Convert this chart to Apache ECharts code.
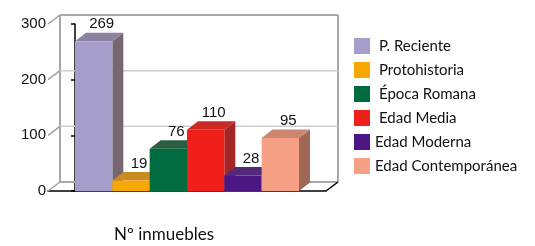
<!DOCTYPE html>
<html>
<head>
<meta charset="utf-8">
<script src="https://cdn.jsdelivr.net/npm/echarts@6/dist/echarts.min.js"></script>
<style>
  html, body { margin: 0; padding: 0; background: #fff; }
  #main { width: 535px; height: 246px; }
</style>
</head>
<body>
<div id="main"></div>
<script>
// periodos y número de inmuebles
var categories = ['P. Reciente', 'Protohistoria', 'Época Romana', 'Edad Media', 'Edad Moderna', 'Edad Contemporánea'];
var values = [269, 19, 76, 110, 28, 95];
var yTicks = [0, 100, 200, 300];
var axisTitle = 'Nº inmuebles';

// colores: frente, cara superior, lateral
var frontColors = ['#a59ecb', '#f8a800', '#006b3e', '#ee2019', '#4c1785', '#f6a185'];
var topColors = ['#8b81a0', '#c98a22', '#2a5e40', '#c92a25', '#53297a', '#cc8670'];
var sideColors = ['#77666f', '#a26f1c', '#0d4a2c', '#a32727', '#3a1860', '#a06757'];

(function () {
    var dom = document.getElementById('main');
    var myChart = echarts.init(dom);
    var xMin = -0.7232, xMax = 6.7232;
    var dx = 11, dy = 8.5;     // profundidad de las barras
    var wx = 12, wy = 9;       // profundidad de las paredes

    function line(x1, y1, x2, y2, color, w) {
        return { type: 'line', shape: { x1: x1, y1: y1, x2: x2, y2: y2 },
                 style: { stroke: color, lineWidth: w }, silent: true };
    }

    function renderWall(params, api) {
        var v = api.value(1);
        var a = api.coord([xMin, v]);
        var b = api.coord([xMax, v]);
        var last = yTicks[yTicks.length - 1];
        var kids = [];
        var isEdge = (v === 0 || v === last);
        kids.push(line(a[0] + wx, a[1] - wy, b[0] + wx, b[1] - wy, isEdge ? '#a8a8a8' : '#cfcfcf', isEdge ? 2 : 1.5));
        kids.push(line(a[0], a[1], a[0] + wx, a[1] - wy, '#a0a0a0', 1.5));
        if (v === 0) {
            var t = api.coord([xMin, last]);
            var r = api.coord([xMax, last]);
            kids.push(line(a[0] + wx, a[1] - wy, t[0] + wx, t[1] - wy, '#a8a8a8', 2));
            kids.push(line(b[0] + wx, b[1] - wy, r[0] + wx, r[1] - wy, '#a8a8a8', 2));
            kids.push(line(b[0], b[1], b[0] + wx, b[1] - wy, '#000', 1.5));
        }
        return { type: 'group', children: kids };
    }

    function renderBar(params, api) {
        var i = api.value(0), v = api.value(1);
        var k = params.seriesIndex - 1;
        var p0 = api.coord([i, 0]);
        var p1 = api.coord([i + 1, v]);
        var x0 = p0[0], x1 = p1[0], yb = p0[1], yt = p1[1];
        return {
            type: 'group',
            children: [
                { type: 'polygon', shape: { points: [[x1, yb], [x1 + dx, yb - dy], [x1 + dx, yt - dy], [x1, yt]] },
                  style: { fill: sideColors[k] } },
                { type: 'polygon', shape: { points: [[x0, yt], [x0 + dx, yt - dy], [x1 + dx, yt - dy], [x1, yt]] },
                  style: { fill: topColors[k] } },
                { type: 'rect', shape: { x: x0, y: yt, width: x1 - x0, height: yb - yt },
                  style: { fill: frontColors[k] } },
                { type: 'text', z2: 10,
                  style: { text: String(v), x: (x0 + x1) / 2 + 8, y: yt - dy - 1,
                           align: 'center', verticalAlign: 'bottom',
                           fontSize: 15, fontFamily: 'Liberation Sans', fill: '#111' } }
            ]
        };
    }

    var series = [{
        type: 'custom',
        name: '_wall',
        renderItem: renderWall,
        data: yTicks.map(function (t) { return [xMin, t]; }),
        encode: { x: 0, y: 1 },
        silent: true
    }];
    categories.forEach(function (c, i) {
        series.push({
            type: 'custom',
            name: c,
            renderItem: renderBar,
            itemStyle: { color: frontColors[i] },
            data: [[i, values[i]]],
            encode: { x: 0, y: 1 }
        });
    });

    var legendData = categories.map(function (c, i) {
        return i < 4 ? { name: c, textStyle: { padding: [0, 0, 0, 4] } } : { name: c };
    });

    var option = {
        animation: false,
        backgroundColor: '#fff',
        title: {
            text: axisTitle,
            left: 114, top: 226, padding: 0,
            textStyle: { fontFamily: 'Lato', fontSize: 17, fontWeight: 'normal', color: '#111' }
        },
        legend: {
            orient: 'vertical',
            left: 354, top: 38, padding: 0,
            icon: 'rect',
            itemWidth: 16, itemHeight: 16, itemGap: 8,
            data: legendData,
            textStyle: { fontFamily: 'Lato', fontSize: 15, color: '#111' }
        },
        grid: { left: 48, top: 24, width: 278, height: 167 },
        xAxis: {
            type: 'value', min: xMin, max: xMax,
            axisLine: { lineStyle: { color: '#000', width: 1.5 } },
            axisTick: { show: false }, axisLabel: { show: false }, splitLine: { show: false }
        },
        yAxis: {
            type: 'value', min: 0, max: 300, interval: 100,
            axisLine: { show: true, lineStyle: { color: '#000', width: 1.5 } },
            axisTick: { show: true, inside: false, length: 4, lineStyle: { color: '#000', width: 1.5 } },
            axisLabel: { margin: 2, fontSize: 15, fontFamily: 'Liberation Sans', color: '#111' },
            splitLine: { show: false }
        },
        series: series
    };
    myChart.setOption(option);
})();
</script>
</body>
</html>
